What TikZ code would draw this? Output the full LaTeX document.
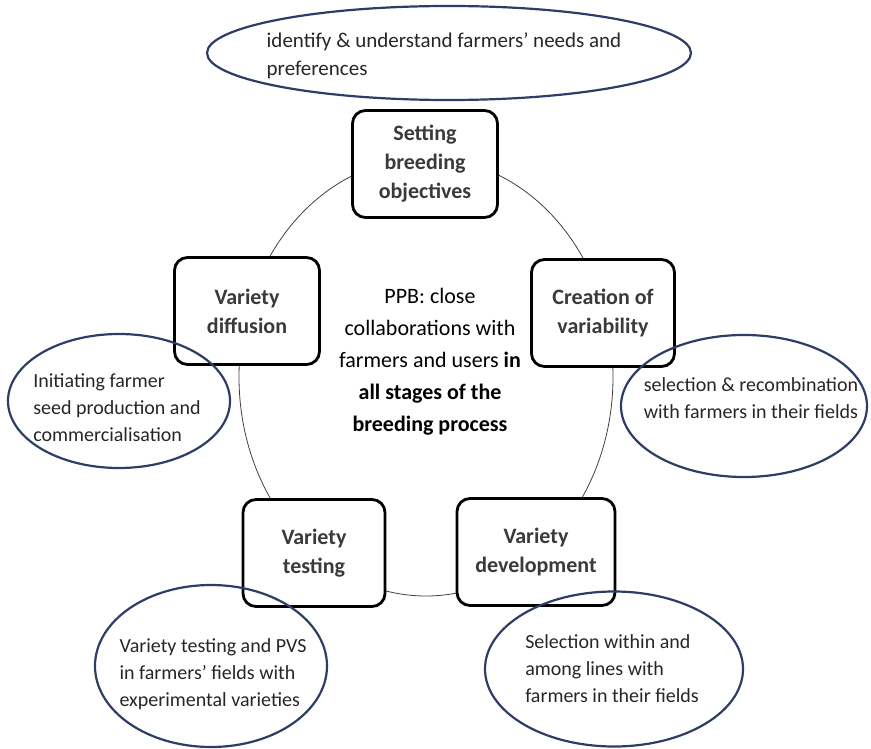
\documentclass[tikz,border=0pt]{standalone}
\usepackage{fontspec}
\setmainfont{Carlito}
\usetikzlibrary{positioning, shapes.geometric}
\definecolor{ovalblue}{HTML}{2E3D66}
\definecolor{stagegray}{HTML}{3A3A3A}

\begin{document}
\begin{tikzpicture}[x=1pt, y=-1pt,
    stage/.style={draw=black, line width=2.8pt, rounded corners=13pt, fill=white,
      minimum height=107pt, align=center, text=stagegray, inner sep=2pt,
      font=\fontsize{22}{29}\selectfont\bfseries},
    oval/.style={draw=ovalblue, line width=2.2pt, ellipse, inner sep=0pt},
    note/.style={align=left, text=black!85, inner sep=0pt,
      font=\fontsize{20}{27}\selectfont},
    ring/.style={draw=black!75, line width=0.8pt, ellipse, inner sep=0pt}]
  \useasboundingbox (0,0) rectangle (871,749);

  % cycle behind the stages
  \node[ring, minimum width=374pt, minimum height=438pt] (cycle) at (426,377) {};

  % the five stages of the cycle
  \foreach \nm/\cx/\cy/\bw/\txt in {
      set/425/164/145/{Setting\\breeding\\objectives},
      cre/603/313/143/{Creation of\\variability},
      dev/536/552/158/{Variety\\development},
      tst/314/553/142/{Variety\\testing},
      dif/247/311/145/{Variety\\diffusion}} {
    \node[stage, minimum width=\bw pt] (\nm) at (\cx,\cy) {\txt};
  }

  % what farmers do at each stage
  \node[oval, minimum width=484pt, minimum height=94pt] (needs) at (449,53) {};
  \node[note, font=\fontsize{21}{28}\selectfont] (needs text) at (444,56)
    {identify \& understand farmers’ needs and\\preferences};
  \node[oval, minimum width=222pt, minimum height=134pt] (seed) at (119,401) {};
  \node[note] (seed text) at (117,408)
    {Initiating farmer\\seed production and\\commercialisation};
  \node[oval, minimum width=246pt, minimum height=142pt] (recomb) at (744,406) {};
  \node[note] (recomb text) at (751,398)
    {selection \& recombination\\with farmers in their fields};
  \node[oval, minimum width=232pt, minimum height=162pt] (pvs) at (211,666) {};
  \node[note] (pvs text) at (213,674)
    {Variety testing and PVS\\in farmers’ fields with\\experimental varieties};
  \node[oval, minimum width=258pt, minimum height=155pt] (lines) at (614,669) {};
  \node[note] (lines text) at (612,669)
    {Selection within and\\among lines with\\farmers in their fields};

  % centre text
  \node[align=center, font=\fontsize{22}{32}\selectfont] (ppb) at (430,362)
    {PPB: close\\collaborations with\\farmers and users \textbf{in}\\
     \textbf{all stages of the}\\\textbf{breeding process}};
\end{tikzpicture}
\end{document}
